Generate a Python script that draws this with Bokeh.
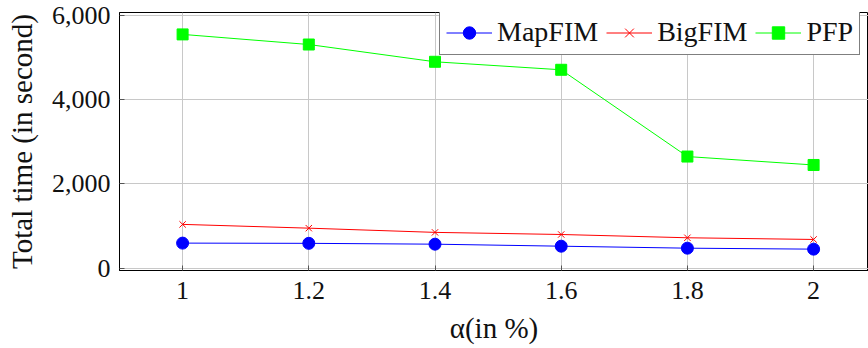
from bokeh.plotting import figure
from bokeh.models import (Range1d, FixedTicker, NumeralTickFormatter, Legend, LegendItem)
from bokeh.embed import file_html
from bokeh.resources import INLINE

# ---- data ----
alpha = [1.0, 1.2, 1.4, 1.6, 1.8, 2.0]
alpha_labels = ["1", "1.2", "1.4", "1.6", "1.8", "2"]
mapfim = [595, 590, 570, 522, 475, 452]
bigfim = [1040, 950, 850, 800, 722, 682]
pfp = [5550, 5310, 4900, 4710, 2650, 2450]
y_ticks = [0, 2000, 4000, 6000]
series_names = ["MapFIM", "BigFIM", "PFP"]

FONT = "Liberation Serif"

p = figure(width=868, height=348, output_backend="svg", toolbar_location=None,
           x_range=Range1d(0.9, 2.087), y_range=Range1d(-55, 6070),
           min_border_left=119, min_border_top=12, min_border_bottom=78,
           min_border_right=0)

p.outline_line_color = "black"
p.outline_line_width = 1

# grid
p.xgrid.ticker = FixedTicker(ticks=alpha)
p.ygrid.ticker = FixedTicker(ticks=y_ticks)
for g in (p.xgrid, p.ygrid):
    g.grid_line_color = "#c8c8c8"
    g.grid_line_width = 1

# axes
p.xaxis.ticker = FixedTicker(ticks=alpha)
p.xaxis.major_label_overrides = {a: l for a, l in zip(alpha, alpha_labels)}
p.yaxis.ticker = FixedTicker(ticks=y_ticks)
p.yaxis.formatter = NumeralTickFormatter(format="0,0")
for ax in (p.xaxis, p.yaxis):
    ax.axis_line_color = "black"
    ax.axis_line_width = 1
    ax.major_tick_in = 5
    ax.major_tick_out = 0
    ax.major_tick_line_color = "#555555"
    ax.minor_tick_line_color = None
    ax.major_label_text_font = FONT
    ax.major_label_text_font_size = "26px"
    ax.major_label_text_color = "#111111"
    ax.axis_label_text_font = FONT
    ax.axis_label_text_font_size = "29px"
    ax.axis_label_text_font_style = "normal"
    ax.axis_label_text_color = "#111111"

p.xaxis.axis_label = "α(in %)"
p.yaxis.axis_label = "Total time (in second)"
p.xaxis.major_label_standoff = 11
p.xaxis.axis_label_standoff = 10
p.yaxis.major_label_standoff = 9
p.yaxis.axis_label_standoff = 11

# series
l1 = p.line(alpha, mapfim, line_color="#0000ff", line_width=1)
m1 = p.scatter(alpha, mapfim, marker="circle", size=12, fill_color="#0000ff", line_color="#0000ff")
l2 = p.line(alpha, bigfim, line_color="#ff0000", line_width=1)
m2 = p.scatter(alpha, bigfim, marker="x", size=9, line_color="#ff0000", line_width=1)
l3 = p.line(alpha, pfp, line_color="#00ff00", line_width=1)
m3 = p.scatter(alpha, pfp, marker="square", size=11, fill_color="#00ff00", line_color="#00ff00")

legend = Legend(items=[
    LegendItem(label=series_names[0], renderers=[l1, m1]),
    LegendItem(label=series_names[1], renderers=[l2, m2]),
    LegendItem(label=series_names[2], renderers=[l3, m3]),
], orientation="horizontal", location=(320, 215))
legend.margin = 0
legend.padding = 6
legend.spacing = 8
legend.glyph_width = 46
legend.glyph_height = 31
legend.label_standoff = 5
legend.label_text_font = FONT
legend.label_text_font_size = "28px"
legend.label_text_color = "#111111"
legend.border_line_color = "black"
legend.border_line_width = 1
legend.background_fill_color = "white"
legend.background_fill_alpha = 1
p.add_layout(legend, "center")

open("out.html", "w").write(file_html(p, INLINE))
